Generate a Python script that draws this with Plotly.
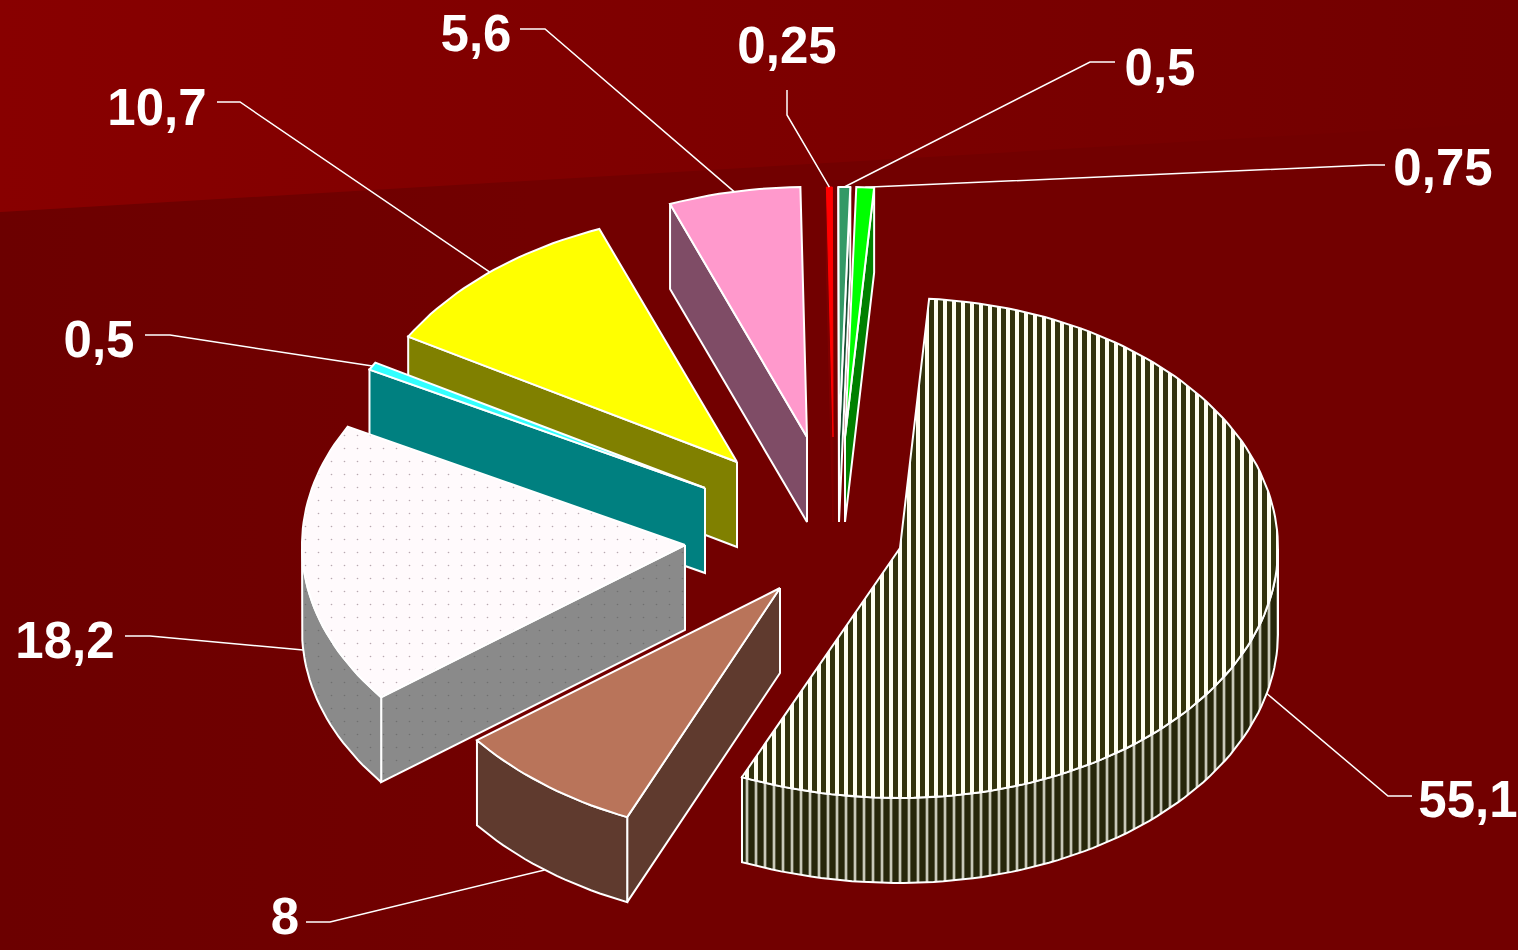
import math
import plotly.graph_objects as go

# Data, clockwise from the first slice
values = [0.25, 0.5, 0.75, 55.1, 8, 18.2, 0.5, 10.7, 5.6]
labels = ["0,25", "0,5", "0,75", "55,1", "8", "18,2", "0,5", "10,7", "5,6"]

# Slice apex after explosion (picture pixels)
apex_x = [833, 839, 845, 900, 780, 685, 705, 737, 807]
apex_y = [437, 437, 437, 548, 588, 545, 488, 462, 437]
left_rx = [378, 378, 378, 395, 382, 383, 381, 380, 378]

top_colors = ["#ff0000", "#339966", "#00ff00", "#fffff0", "#b9745a", "#fffafc", "#33ffff", "#ffff00", "#ff99cc"]
edge_colors = ["#800000", "#1a4d33", "#008000", "#3a3a12", "#5f3a2e", "#8a8a8a", "#008080", "#808000", "#7f4c66"]
arc_colors = ["#800000", "#1a4d33", "#008000", "#3a3a12", "#5f3a2e", "#b4b4b4", "#008080", "#808000", "#7f4c66"]
line_colors = ["#ff0000", "#ffffff", "#ffffff", "#ffffff", "#ffffff", "#ffffff", "#ffffff", "#ffffff", "#ffffff"]
wall_line_colors = ["#800000", "#ffffff", "#ffffff", "#ffffff", "#ffffff", "#ffffff", "#ffffff", "#ffffff", "#ffffff"]

# Label layout
label_x = [787, 1160, 1443, 1468, 285, 65, 99, 157, 476]
label_y = [50, 72, 172, 804, 921, 645, 344, 112, 38]
leader_x0 = [787, 1115, 1385, 1412, 306, 125, 145, 217, 520]
leader_y0 = [90, 62, 165, 796, 922, 636, 335, 102, 29]
elbow_x = [787, 1090, 1370, 1388, 330, 150, 170, 240, 545]
elbow_y = [115, 62, 165, 796, 922, 636, 335, 102, 29]

draw_order = [0, 1, 2, 8, 7, 6, 5, 4, 3]

RX, RY, DEPTH = 378, 250, 85
START_ANGLE = -1.0
TOTAL = sum(values)

fig = go.Figure()


def poly(xs, ys, fill, line="#ffffff", width=2, pattern=None):
    kw = dict(fillpattern=pattern) if pattern else {}
    fig.add_trace(go.Scatter(x=xs + xs[:1], y=ys + ys[:1], mode="lines", fill="toself",
                             fillcolor=fill, line=dict(color=line, width=width),
                             hoverinfo="skip", showlegend=False, **kw))


def outer(i, a):
    r = math.radians(a)
    s = math.sin(r)
    return apex_x[i] + (left_rx[i] if s < 0 else RX) * s, apex_y[i] - RY * math.cos(r)


# Background
fig.add_trace(go.Scatter(x=[0, 1518, 1518, 0, 0], y=[212, 122, 950, 950, 212], mode="lines", fill="toself",
                         line=dict(width=0), hoverinfo="skip", showlegend=False,
                         fillgradient=dict(type="horizontal", colorscale=[[0, "#6c0000"], [0.35, "#720000"], [1, "#720000"]])))
fig.add_trace(go.Scatter(x=[0, 1518, 1518, 0, 0], y=[0, 0, 122, 212, 0], mode="lines", fill="toself",
                         line=dict(width=0), hoverinfo="skip", showlegend=False,
                         fillgradient=dict(type="horizontal", colorscale=[[0, "#880000"], [1, "#720000"]])))

# Angular extents
starts, ends = [], []
a = START_ANGLE
for v in values:
    starts.append(a)
    a += v / TOTAL * 360
    ends.append(a)

top_patterns = {3: dict(shape="|", size=9, solidity=0.55, fgcolor="#33330c", bgcolor="#fffff0", fillmode="replace"),
                5: dict(shape=".", size=13, solidity=0.012, fgcolor="#b8a8b0", bgcolor="#fffafc", fillmode="replace")}
side_patterns = {3: dict(shape="|", size=9, solidity=0.7, fgcolor="#26260a", bgcolor="#c8c8b8", fillmode="replace"),
                 5: dict(shape=".", size=13, solidity=0.012, fgcolor="#707070", bgcolor="#8a8a8a", fillmode="replace")}

for i in draw_order:
    cx, cy, s, e = apex_x[i], apex_y[i], starts[i], ends[i]
    n = max(3, int((e - s) / 1.5))
    arc = [s + (e - s) * k / n for k in range(n + 1)]
    pts = [outer(i, t) for t in arc]
    mx, my = outer(i, (s + e) / 2)
    lw = 2 if line_colors[i] == "#ffffff" else 1

    # Flat cut walls facing the viewer
    for ang in (s, e):
        px, py = outer(i, ang)
        ex, ey = px - cx, py - cy
        side_down = ex
        side_in = ex * (my - cy) - ey * (mx - cx)
        if side_down * side_in < 0:
            poly([cx, px, px, cx], [cy, py, py + DEPTH, cy + DEPTH], edge_colors[i],
                 wall_line_colors[i], lw, side_patterns.get(i))

    # Outer curved wall on the near half of the ellipse
    near = [t for t in arc if math.cos(math.radians(t)) < 0]
    if len(near) > 1:
        np_ = [outer(i, t) for t in near]
        xs = [p[0] for p in np_] + [p[0] for p in reversed(np_)]
        ys = [p[1] for p in np_] + [p[1] + DEPTH for p in reversed(np_)]
        poly(xs, ys, arc_colors[i], wall_line_colors[i], lw, side_patterns.get(i))

    # Top face
    poly([cx] + [p[0] for p in pts], [cy] + [p[1] for p in pts], top_colors[i],
         line_colors[i], lw, top_patterns.get(i))

# Leaders and labels
for i in range(len(values)):
    mid = (starts[i] + ends[i]) / 2
    tx, ty = outer(i, mid)
    if math.cos(math.radians(mid)) < 0:
        ty += DEPTH
    fig.add_trace(go.Scatter(x=[leader_x0[i], elbow_x[i], tx], y=[leader_y0[i], elbow_y[i], ty],
                             mode="lines", line=dict(color="#ffffff", width=1.5),
                             hoverinfo="skip", showlegend=False))

fig.add_trace(go.Scatter(x=label_x, y=label_y, mode="text", text=labels, textposition="middle center",
                         textfont=dict(family="Liberation Sans", size=51, color="#ffffff", weight="bold"),
                         hoverinfo="skip", showlegend=False, cliponaxis=False))

fig.update_layout(width=1518, height=950, margin=dict(l=0, r=0, t=0, b=0),
                  paper_bgcolor="#720000", plot_bgcolor="#720000", showlegend=False,
                  xaxis=dict(range=[0, 1518], visible=False, fixedrange=True),
                  yaxis=dict(range=[950, 0], visible=False, fixedrange=True))

fig.write_html("out.html", post_script="document.body.style.margin='0';document.body.style.overflow='hidden';",
               config={"displayModeBar": False})
